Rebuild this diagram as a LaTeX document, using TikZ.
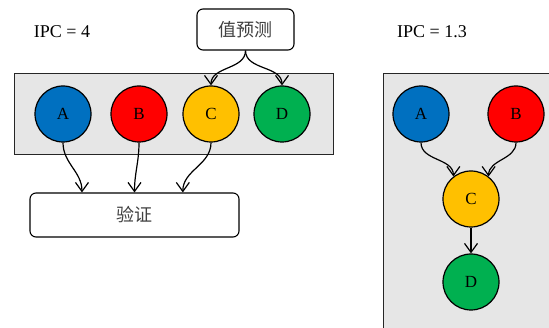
\documentclass[tikz,border=0pt]{standalone}
\usepackage{fontspec}
\setmainfont{Liberation Serif}
\newfontfamily\cjk{Noto Sans CJK SC}
\usetikzlibrary{arrows.meta,calc}

\definecolor{opblue}{HTML}{0070C0}
\definecolor{opred}{HTML}{FF0000}
\definecolor{opyellow}{HTML}{FFC000}
\definecolor{opgreen}{HTML}{00B050}
\definecolor{panelgray}{HTML}{E6E6E6}
\definecolor{cjkgray}{HTML}{404040}

\tikzset{
  op/.style={circle, draw=black, line width=1.2pt, minimum size=56pt, inner sep=0pt,
             font=\fontsize{17}{20}\selectfont},
  panel/.style={draw=black!85, line width=0.9pt, fill=panelgray},
  stagebox/.style={draw=black, line width=1.1pt, fill=white, rounded corners=6pt,
                   font=\cjk\fontsize{18}{21}\selectfont, text=cjkgray, inner sep=0pt},
  flow/.style={draw=black, line width=1.2pt, -{Straight Barb[length=9pt,width=13pt,line width=1.2pt]}},
  ipc/.style={font=\fontsize{18}{21}\selectfont, inner sep=0pt}
}

\begin{document}
\begin{tikzpicture}[x=1pt, y=-1pt]
  \useasboundingbox (0,0) rectangle (549,328);

  % four independent operations, all issued together
  \node[panel, minimum width=319pt, minimum height=81pt, inner sep=0pt] (wide) at (173.5,113.5) {};
  \node[ipc] (ipcwide) at (62,32) {IPC = 4};
  \node[op, fill=opblue]   (A) at (63,114)  {A};
  \node[op, fill=opred]    (B) at (139,114) {B};
  \node[op, fill=opyellow] (C) at (211,114) {C};
  \node[op, fill=opgreen]  (D) at (282,114) {D};

  \node[stagebox, minimum width=97pt, minimum height=41pt] (predict) at (245.5,29.5) {值预测};
  \node[stagebox, minimum width=209pt, minimum height=44pt] (verify) at (134.5,215) {验证};

  \draw[flow] (predict.south) to[out=-90, in=90] (C.north);
  \draw[flow] (predict.south) to[out=-90, in=90] (D.north);

  \coordinate (vA) at ($(verify.north west)!0.25!(verify.north east)$);
  \coordinate (vB) at ($(verify.north west)!0.5!(verify.north east)$);
  \coordinate (vC) at ($(verify.north west)!0.73!(verify.north east)$);
  \draw[flow] (A.south) to[out=-90, in=90] (vA);
  \draw[flow] (B.south) to[out=-90, in=90] (vB);
  \draw[flow] (C.south) to[out=-90, in=90] (vC);

  % the same operations with their data dependences
  \begin{scope}
    \clip (0,0) rectangle (549,328);
    \node[panel, minimum width=200pt, minimum height=280pt, inner sep=0pt, anchor=north west] (chain) at (383,73) {};
  \end{scope}
  \node[ipc] (ipcchain) at (432,32) {IPC = 1.3};
  \node[op, fill=opblue]   (A2) at (421,114) {A};
  \node[op, fill=opred]    (B2) at (516,114) {B};
  \node[op, fill=opyellow] (C2) at (471,199) {C};
  \node[op, fill=opgreen]  (D2) at (471,282) {D};

  \draw[flow] (A2.south) to[out=-90, in=90] (C2.128);
  \draw[flow] (B2.south) to[out=-90, in=90] (C2.52);
  \draw[flow] (C2.south) -- (D2.north);
\end{tikzpicture}
\end{document}
